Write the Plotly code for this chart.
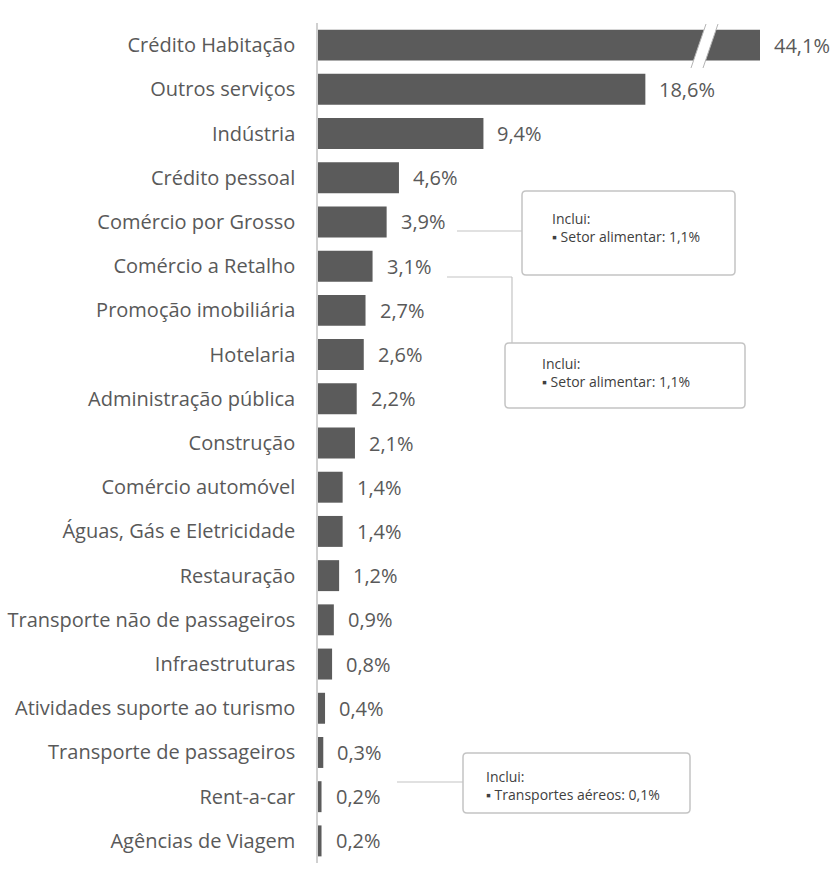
import plotly.graph_objects as go

# Sector shares of the credit portfolio (%)
categories = [
    "Crédito Habitação", "Outros serviços", "Indústria", "Crédito pessoal",
    "Comércio por Grosso", "Comércio a Retalho", "Promoção imobiliária",
    "Hotelaria", "Administração pública", "Construção", "Comércio automóvel",
    "Águas, Gás e Eletricidade", "Restauração", "Transporte não de passageiros",
    "Infraestruturas", "Atividades suporte ao turismo", "Transporte de passageiros",
    "Rent-a-car", "Agências de Viagem",
]
values = [44.1, 18.6, 9.4, 4.6, 3.9, 3.1, 2.7, 2.6, 2.2, 2.1, 1.4, 1.4, 1.2,
          0.9, 0.8, 0.4, 0.3, 0.2, 0.2]
value_labels = [f"{v:.1f}%".replace(".", ",") for v in values]

# Callout notes: (category they point to, text)
callouts = [
    ("Comércio por Grosso", "Inclui:<br>▪ Setor alimentar: 1,1%"),
    ("Comércio a Retalho", "Inclui:<br>▪ Setor alimentar: 1,1%"),
    ("Transporte de passageiros", "Inclui:<br>▪ Transportes aéreos: 0,1%"),
]

W, H = 832, 884
ML, MR, MT, MB = 318, 0, 23, 21
PW, PH = W - ML - MR, H - MT - MB
SCALE = 17.6          # pixels per percentage point
BREAK_PX = 704        # where the broken axis jumps
BAR_COLOR = "#5b5b5b"
TXT = "#595959"
FONT = "Open Sans"

def fx(px):
    return (px - ML) / PW

def fy(py):
    return (H - MB - py) / PH

x1_max = (BREAK_PX - ML) / SCALE
x2_start = values[0] - (760 - BREAK_PX) / SCALE
x2_end = x2_start + (W - MR - BREAK_PX) / SCALE

fig = go.Figure()
for ax in ("x", "x2"):
    fig.add_trace(go.Bar(
        y=categories, x=values, orientation="h", xaxis=ax, yaxis="y",
        marker=dict(color=BAR_COLOR, line=dict(width=0)),
        hoverinfo="skip", showlegend=False,
    ))

annotations = []
for cat, v, lab in zip(categories, values, value_labels):
    annotations.append(dict(
        x=v, y=cat, xref="x2" if v > x1_max else "x", yref="y",
        text=lab, showarrow=False, xanchor="left", yanchor="middle",
        xshift=12, font=dict(family=FONT, size=20, color=TXT),
    ))

shapes = []

def rounded_box(x0, y0, x1, y1, r=4):
    # rounded rectangle drawn in paper units from pixel corners
    rx, ry = r / PW, r / PH
    a, b, c, d = fx(x0), fy(y0), fx(x1), fy(y1)
    path = (f"M {a+rx},{b} L {c-rx},{b} Q {c},{b} {c},{b-ry} "
            f"L {c},{d+ry} Q {c},{d} {c-rx},{d} L {a+rx},{d} "
            f"Q {a},{d} {a},{d+ry} L {a},{b-ry} Q {a},{b} {a+rx},{b} Z")
    return dict(type="path", xref="paper", yref="paper", path=path,
                line=dict(color="#c4c4c4", width=1.5), fillcolor="white", layer="above")

def seg(x0, y0, x1, y1, color="#c4c4c4", width=1.2):
    return dict(type="line", xref="paper", yref="paper",
                x0=fx(x0), y0=fy(y0), x1=fx(x1), y1=fy(y1),
                line=dict(color=color, width=width), layer="above")

boxes = [(522, 191, 735, 275), (505, 343, 745, 408), (463, 753, 690, 813)]
text_pos = [(550, 227), (540, 373), (484, 785)]
for (cat, note), (bx0, by0, bx1, by1), (tx, ty) in zip(callouts, boxes, text_pos):
    shapes.append(rounded_box(bx0, by0, bx1, by1))
    annotations.append(dict(
        x=fx(tx), y=fy(ty), xref="paper", yref="paper", text=note,
        showarrow=False, xanchor="left", yanchor="middle", align="left",
        font=dict(family=FONT, size=14, color="#404040"),
    ))

# connectors from the value labels to the notes
shapes.append(seg(457, 231, 522, 231))
shapes.append(seg(447, 277, 512, 277))
shapes.append(seg(512, 277, 512, 343))
shapes.append(seg(397, 782, 463, 782))

# axis-break slash across the first bar
shapes.append(dict(type="path", xref="paper", yref="paper",
                   path=f"M {fx(706)},{fy(24)} L {fx(718)},{fy(24)} L {fx(703)},{fy(68)} "
                        f"L {fx(691)},{fy(68)} Z",
                   fillcolor="white", line=dict(width=0), layer="above"))
shapes.append(seg(706, 24, 691, 68, color="#b5b5b5", width=1))
shapes.append(seg(718, 24, 703, 68, color="#b5b5b5", width=1))

fig.update_layout(
    width=W, height=H,
    margin=dict(l=ML, r=MR, t=MT, b=MB, pad=0),
    paper_bgcolor="white", plot_bgcolor="white",
    bargap=0.3,
    xaxis=dict(domain=[0, fx(BREAK_PX)], range=[0, x1_max], visible=False,
               fixedrange=True),
    xaxis2=dict(domain=[fx(BREAK_PX), 1], range=[x2_start, x2_end], visible=False,
                anchor="y", fixedrange=True),
    yaxis=dict(type="category", autorange="reversed", showline=True,
               linecolor="#d0d0d0", linewidth=1.5, showgrid=False, ticks="",
               ticklabelstandoff=17, zeroline=False,
               tickfont=dict(family=FONT, size=20, color=TXT)),
    annotations=annotations, shapes=shapes,
    font=dict(family=FONT),
)

fig.write_html("out.html")
